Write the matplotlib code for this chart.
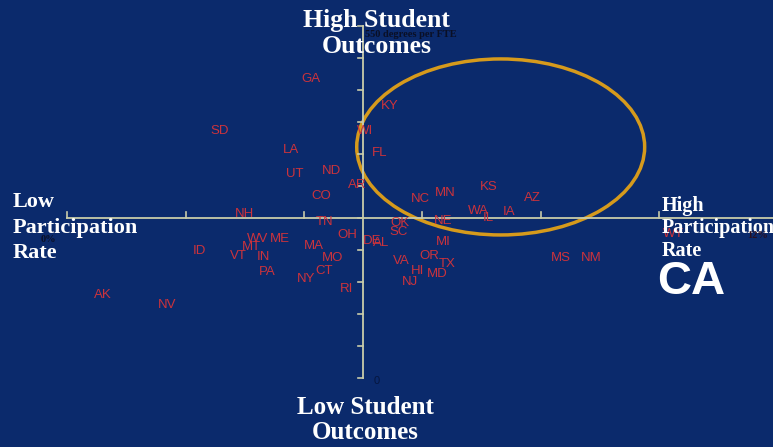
import matplotlib.pyplot as plt
from matplotlib.patches import Ellipse

# participation rate (%) vs degrees per FTE, one label per state
STATES = ['GA', 'KY', 'WI', 'SD', 'FL', 'LA', 'UT', 'ND', 'AR', 'CO',
          'NH', 'TN', 'NC', 'MN', 'KS', 'AZ', 'WA', 'IL', 'IA', 'OK',
          'NE', 'SC', 'MI', 'OH', 'DE', 'AL', 'WV', 'ME', 'MT', 'VT',
          'IN', 'ID', 'PA', 'MA', 'MO', 'CT', 'NY', 'RI', 'VA', 'OR',
          'TX', 'HI', 'MD', 'NJ', 'MS', 'NM', 'WY', 'AK', 'NV']
PARTICIPATION = [4.12, 5.45, 5.03, 2.57, 5.27, 3.78, 3.85, 4.47, 4.89, 4.29,
                 3.00, 4.34, 5.97, 6.38, 7.11, 7.86, 6.94, 7.11, 7.46, 5.62,
                 6.35, 5.59, 6.35, 4.73, 5.15, 5.30, 3.22, 3.59, 3.12, 2.89,
                 3.32, 2.24, 3.38, 4.17, 4.49, 4.34, 4.03, 4.71, 5.65, 6.11,
                 6.41, 5.91, 6.25, 5.79, 8.34, 8.84, 10.23, 0.61, 1.69]
DEGREES = [467, 425, 386, 386, 352, 356, 319, 323, 302, 284,
           256, 244, 280, 289, 298, 281, 261, 250, 259, 242,
           245, 228, 212, 223, 214, 211, 217, 217, 205, 191,
           189, 198, 166, 206, 187, 167, 155, 139, 183, 191,
           178, 167, 162, 150, 187, 187, 225, 130, 114]

X_TICKS = [0, 2, 4, 6, 8, 10, 12]
Y_TICKS = list(range(0, 551, 50))
X_CROSS, Y_CROSS = 5, 250

BG = '#0b2a6c'
AXIS_C = '#c9ccaa'
RED = '#cc333c'
GOLD = '#d69a1c'

fig = plt.figure(figsize=(7.73, 4.47), dpi=100)
fig.patch.set_facecolor(BG)
ax = fig.add_axes([0, 0, 1, 1])
ax.set_facecolor(BG)
ax.set_xlim(-1.131, 11.916)
ax.set_ylim(-107.8, 590.6)
ax.axis('off')

# cross-shaped axes
ax.plot([X_TICKS[0], X_TICKS[-1]], [Y_CROSS, Y_CROSS], color=AXIS_C, lw=1.3)
ax.plot([X_CROSS, X_CROSS], [Y_TICKS[0], Y_TICKS[-1]], color=AXIS_C, lw=1.3)
for xt in X_TICKS:
    ax.plot([xt, xt], [Y_CROSS, Y_CROSS + 9], color=AXIS_C, lw=1.2)
for yt in Y_TICKS:
    ax.plot([X_CROSS - 0.09, X_CROSS], [yt, yt], color=AXIS_C, lw=1.2)

for s, x, y in zip(STATES, PARTICIPATION, DEGREES):
    ax.text(x, y, s, color=RED, fontsize=9.5, family='Liberation Sans',
            ha='center', va='center')

ax.add_patch(Ellipse((7.32, 361), 4.86, 275, fill=False, ec=GOLD, lw=2.5))

serif = dict(family='Liberation Serif', fontweight='bold', color='white')
ax.text(X_CROSS + 0.22, 577, 'High Student\nOutcomes', ha='center', va='top',
        fontsize=18.5, linespacing=1.2, **serif)
ax.text(X_CROSS + 0.03, -28, 'Low Student\nOutcomes', ha='center', va='top',
        fontsize=18, linespacing=1.12, **serif)
ax.text(-0.91, 290, 'Low\nParticipation\nRate', ha='left', va='top',
        fontsize=16, linespacing=1.35, **serif)
ax.text(10.04, 285, 'High\nParticipation\nRate', ha='left', va='top',
        fontsize=14.5, linespacing=1.17, **serif)
ax.text(10.53, 150, 'CA', ha='center', va='center', color='white',
        fontsize=34, fontweight='bold', family='Liberation Sans')

small = dict(family='Liberation Serif', fontweight='bold', fontsize=7.5)
ax.text(X_CROSS + 0.03, 536, '550 degrees per FTE', ha='left', va='center',
        color='#0a0f25', **small)
ax.text(-0.32, 217, '0%', ha='center', va='center', color='#0a0f25', **small)
ax.text(11.65, 222, '12%', ha='center', va='center', color='#2a0f20', **small)
ax.text(X_CROSS + 0.22, -5, '0', ha='center', va='center', color='#06163f',
        family='Liberation Sans', fontsize=8)

fig.savefig('out.png', dpi=100, facecolor=BG)
